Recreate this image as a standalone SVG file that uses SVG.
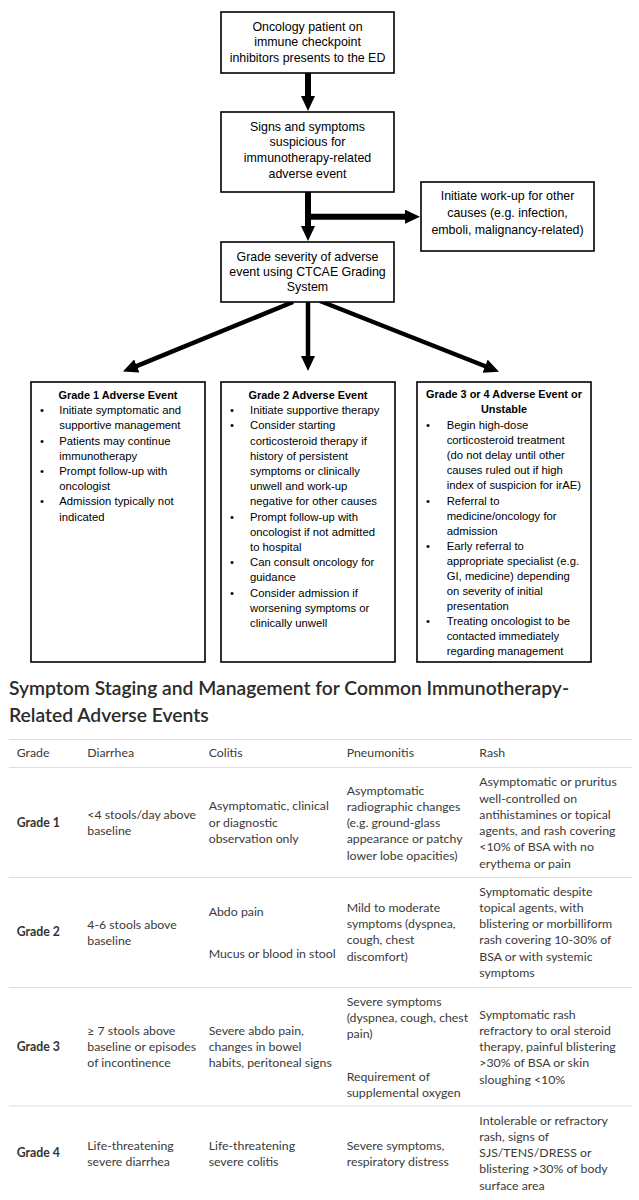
<svg xmlns="http://www.w3.org/2000/svg" width="639" height="1200" viewBox="0 0 639 1200">
<style>
.box{fill:#fff;stroke:#000;stroke-width:1.6}
.ft{font-family:"Liberation Sans",Arial,sans-serif;font-size:12.4px;fill:#000;text-anchor:middle}
.gt{font-family:"Liberation Sans",Arial,sans-serif;font-size:11.3px;fill:#000}
.gh{font-weight:bold;text-anchor:middle;font-size:10.9px}
.conn{stroke:#000;fill:none}
.h{font-family:Lato,"Liberation Sans",sans-serif;font-size:19.3px;font-weight:600;fill:#2b2b2b}
.tt{font-family:Lato,"Liberation Sans",sans-serif;font-size:12.3px;fill:#3a3a3a}
.tb{font-weight:bold;fill:#333}
.rl{stroke:#dedede;stroke-width:1}
</style>
<defs>
<marker id="ah" markerUnits="userSpaceOnUse" markerWidth="16" markerHeight="15" refX="1" refY="7" orient="auto">
<path d="M0,0 L15,7 L0,14 z" fill="#000"/>
</marker>
</defs>

<g id="connectors">
<line class="conn" x1="308" y1="73" x2="308" y2="97" stroke-width="6" marker-end="url(#ah)"/>
<line class="conn" x1="308" y1="192" x2="308" y2="227" stroke-width="6" marker-end="url(#ah)"/>
<line class="conn" x1="305" y1="216.7" x2="406" y2="216.7" stroke-width="6" marker-end="url(#ah)"/>
<line class="conn" x1="293" y1="302" x2="135.9" y2="366.3" stroke-width="4.5" marker-end="url(#ah)"/>
<line class="conn" x1="308" y1="302" x2="308" y2="357" stroke-width="4.5" marker-end="url(#ah)"/>
<line class="conn" x1="320" y1="301" x2="486" y2="366.5" stroke-width="4.5" marker-end="url(#ah)"/>
</g>

<g id="n-start">
<rect class="box" x="221" y="12" width="173" height="61"/>
<text class="ft" x="307.5" y="30.5">Oncology patient on</text>
<text class="ft" x="307.5" y="46">immune checkpoint</text>
<text class="ft" x="307.5" y="61.5">inhibitors presents to the ED</text>
</g>

<g id="n-signs">
<rect class="box" x="221" y="112" width="173" height="80"/>
<text class="ft" x="307.5" y="130.5">Signs and symptoms</text>
<text class="ft" x="307.5" y="146">suspicious for</text>
<text class="ft" x="307.5" y="161.5">immunotherapy-related</text>
<text class="ft" x="307.5" y="177.5">adverse event</text>
</g>

<g id="n-workup">
<rect class="box" x="421" y="182" width="173" height="69"/>
<text class="ft" x="507.5" y="200">Initiate work-up for other</text>
<text class="ft" x="507.5" y="217">causes (e.g. infection,</text>
<text class="ft" x="507.5" y="234">emboli, malignancy-related)</text>
</g>

<g id="n-grade">
<rect class="box" x="221" y="242" width="173" height="60"/>
<text class="ft" x="307.5" y="260.5">Grade severity of adverse</text>
<text class="ft" x="307.5" y="276">event using CTCAE Grading</text>
<text class="ft" x="307.5" y="291">System</text>
</g>

<g id="n-g1">
<rect class="box" x="31" y="382" width="174" height="280"/>
<text class="gt gh" x="118" y="399">Grade 1 Adverse Event</text>
<text class="gt" x="40" y="414.2">•</text><text class="gt" x="59.3" y="414.2">Initiate symptomatic and</text>
<text class="gt" x="59.3" y="429.4">supportive management</text>
<text class="gt" x="40" y="444.6">•</text><text class="gt" x="59.3" y="444.6">Patients may continue</text>
<text class="gt" x="59.3" y="459.8">immunotherapy</text>
<text class="gt" x="40" y="475">•</text><text class="gt" x="59.3" y="475">Prompt follow-up with</text>
<text class="gt" x="59.3" y="490.2">oncologist</text>
<text class="gt" x="40" y="505.4">•</text><text class="gt" x="59.3" y="505.4">Admission typically not</text>
<text class="gt" x="59.3" y="520.6">indicated</text>
</g>

<g id="n-g2">
<rect class="box" x="221" y="382" width="174" height="280"/>
<text class="gt gh" x="308" y="399">Grade 2 Adverse Event</text>
<text class="gt" x="230" y="414.2">•</text><text class="gt" x="250" y="414.2">Initiate supportive therapy</text>
<text class="gt" x="230" y="429.4">•</text><text class="gt" x="250" y="429.4">Consider starting</text>
<text class="gt" x="250" y="444.6">corticosteroid therapy if</text>
<text class="gt" x="250" y="459.8">history of persistent</text>
<text class="gt" x="250" y="475">symptoms or clinically</text>
<text class="gt" x="250" y="490.2">unwell and work-up</text>
<text class="gt" x="250" y="505.4">negative for other causes</text>
<text class="gt" x="230" y="520.6">•</text><text class="gt" x="250" y="520.6">Prompt follow-up with</text>
<text class="gt" x="250" y="535.8">oncologist if not admitted</text>
<text class="gt" x="250" y="551">to hospital</text>
<text class="gt" x="230" y="566.2">•</text><text class="gt" x="250" y="566.2">Can consult oncology for</text>
<text class="gt" x="250" y="581.4">guidance</text>
<text class="gt" x="230" y="596.6">•</text><text class="gt" x="250" y="596.6">Consider admission if</text>
<text class="gt" x="250" y="611.8">worsening symptoms or</text>
<text class="gt" x="250" y="627">clinically unwell</text>
</g>

<g id="n-g34">
<rect class="box" x="417" y="382" width="174" height="280"/>
<text class="gt gh" x="504" y="398.3">Grade 3 or 4 Adverse Event or</text>
<text class="gt gh" x="504" y="412.5">Unstable</text>
<text class="gt" x="426" y="429.3">•</text><text class="gt" x="446.7" y="429.3">Begin high-dose</text>
<text class="gt" x="446.7" y="444.3">corticosteroid treatment</text>
<text class="gt" x="446.7" y="459.4">(do not delay until other</text>
<text class="gt" x="446.7" y="474.4">causes ruled out if high</text>
<text class="gt" x="446.7" y="489.4">index of suspicion for irAE)</text>
<text class="gt" x="426" y="504.5">•</text><text class="gt" x="446.7" y="504.5">Referral to</text>
<text class="gt" x="446.7" y="519.5">medicine/oncology for</text>
<text class="gt" x="446.7" y="534.5">admission</text>
<text class="gt" x="426" y="549.5">•</text><text class="gt" x="446.7" y="549.5">Early referral to</text>
<text class="gt" x="446.7" y="564.6">appropriate specialist (e.g.</text>
<text class="gt" x="446.7" y="579.6">GI, medicine) depending</text>
<text class="gt" x="446.7" y="594.6">on severity of initial</text>
<text class="gt" x="446.7" y="609.7">presentation</text>
<text class="gt" x="426" y="624.7">•</text><text class="gt" x="446.7" y="624.7">Treating oncologist to be</text>
<text class="gt" x="446.7" y="639.7">contacted immediately</text>
<text class="gt" x="446.7" y="654.7">regarding management</text>
</g>

<g id="table">
<text class="h" x="9" y="695">Symptom Staging and Management for Common Immunotherapy-</text>
<text class="h" x="9" y="722.3">Related Adverse Events</text>

<line class="rl" x1="9" y1="739.5" x2="632" y2="739.5"/>
<line class="rl" x1="9" y1="767.5" x2="632" y2="767.5"/>
<line class="rl" x1="9" y1="877.5" x2="632" y2="877.5"/>
<line class="rl" x1="9" y1="987.5" x2="632" y2="987.5"/>
<line class="rl" x1="9" y1="1106" x2="632" y2="1106"/>

<text class="tt" x="16.7" y="757.3">Grade</text>
<text class="tt" x="87.3" y="757.3">Diarrhea</text>
<text class="tt" x="208.7" y="757.3">Colitis</text>
<text class="tt" x="346.7" y="757.3">Pneumonitis</text>
<text class="tt" x="479.3" y="757.3">Rash</text>

<text class="tt tb" x="16.7" y="826.8">Grade 1</text>
<text class="tt" x="87.3" y="818.5">&lt;4 stools/day above</text>
<text class="tt" x="87.3" y="835">baseline</text>
<text class="tt" x="208.7" y="810.2">Asymptomatic, clinical</text>
<text class="tt" x="208.7" y="826.8">or diagnostic</text>
<text class="tt" x="208.7" y="843.3">observation only</text>
<text class="tt" x="346.7" y="794.5">Asymptomatic</text>
<text class="tt" x="346.7" y="810.8">radiographic changes</text>
<text class="tt" x="346.7" y="827.1">(e.g. ground-glass</text>
<text class="tt" x="346.7" y="843.4">appearance or patchy</text>
<text class="tt" x="346.7" y="859.7">lower lobe opacities)</text>
<text class="tt" x="479.3" y="786.2">Asymptomatic or pruritus</text>
<text class="tt" x="479.3" y="802.5">well-controlled on</text>
<text class="tt" x="479.3" y="818.8">antihistamines or topical</text>
<text class="tt" x="479.3" y="835.1">agents, and rash covering</text>
<text class="tt" x="479.3" y="851.4">&lt;10% of BSA with no</text>
<text class="tt" x="479.3" y="867.7">erythema or pain</text>

<text class="tt tb" x="16.7" y="936.2">Grade 2</text>
<text class="tt" x="87.3" y="928.5">4-6 stools above</text>
<text class="tt" x="87.3" y="944.8">baseline</text>
<text class="tt" x="208.7" y="915.5">Abdo pain</text>
<text class="tt" x="208.7" y="957.8">Mucus or blood in stool</text>
<text class="tt" x="346.7" y="911.8">Mild to moderate</text>
<text class="tt" x="346.7" y="928.1">symptoms (dyspnea,</text>
<text class="tt" x="346.7" y="944.4">cough, chest</text>
<text class="tt" x="346.7" y="960.7">discomfort)</text>
<text class="tt" x="479.3" y="895.5">Symptomatic despite</text>
<text class="tt" x="479.3" y="911.8">topical agents, with</text>
<text class="tt" x="479.3" y="928.1">blistering or morbilliform</text>
<text class="tt" x="479.3" y="944.4">rash covering 10-30% of</text>
<text class="tt" x="479.3" y="960.7">BSA or with systemic</text>
<text class="tt" x="479.3" y="977">symptoms</text>

<text class="tt tb" x="16.7" y="1050.5">Grade 3</text>
<text class="tt" x="87.3" y="1034.8">≥ 7 stools above</text>
<text class="tt" x="87.3" y="1051.1">baseline or episodes</text>
<text class="tt" x="87.3" y="1067.4">of incontinence</text>
<text class="tt" x="208.7" y="1034.8">Severe abdo pain,</text>
<text class="tt" x="208.7" y="1051.1">changes in bowel</text>
<text class="tt" x="208.7" y="1067.4">habits, peritoneal signs</text>
<text class="tt" x="346.7" y="1005.5">Severe symptoms</text>
<text class="tt" x="346.7" y="1021.8">(dyspnea, cough, chest</text>
<text class="tt" x="346.7" y="1038.1">pain)</text>
<text class="tt" x="346.7" y="1080.5">Requirement of</text>
<text class="tt" x="346.7" y="1096.8">supplemental oxygen</text>
<text class="tt" x="479.3" y="1018.5">Symptomatic rash</text>
<text class="tt" x="479.3" y="1034.8">refractory to oral steroid</text>
<text class="tt" x="479.3" y="1051.1">therapy, painful blistering</text>
<text class="tt" x="479.3" y="1067.4">&gt;30% of BSA or skin</text>
<text class="tt" x="479.3" y="1083.7">sloughing &lt;10%</text>

<text class="tt tb" x="16.7" y="1157.2">Grade 4</text>
<text class="tt" x="87.3" y="1149.8">Life-threatening</text>
<text class="tt" x="87.3" y="1166.1">severe diarrhea</text>
<text class="tt" x="208.7" y="1149.8">Life-threatening</text>
<text class="tt" x="208.7" y="1166.1">severe colitis</text>
<text class="tt" x="346.7" y="1149.8">Severe symptoms,</text>
<text class="tt" x="346.7" y="1166.1">respiratory distress</text>
<text class="tt" x="479.3" y="1124.5">Intolerable or refractory</text>
<text class="tt" x="479.3" y="1140.8">rash, signs of</text>
<text class="tt" x="479.3" y="1157.1">SJS/TENS/DRESS or</text>
<text class="tt" x="479.3" y="1173.4">blistering &gt;30% of body</text>
<text class="tt" x="479.3" y="1189.7">surface area</text>
</g>
</svg>
